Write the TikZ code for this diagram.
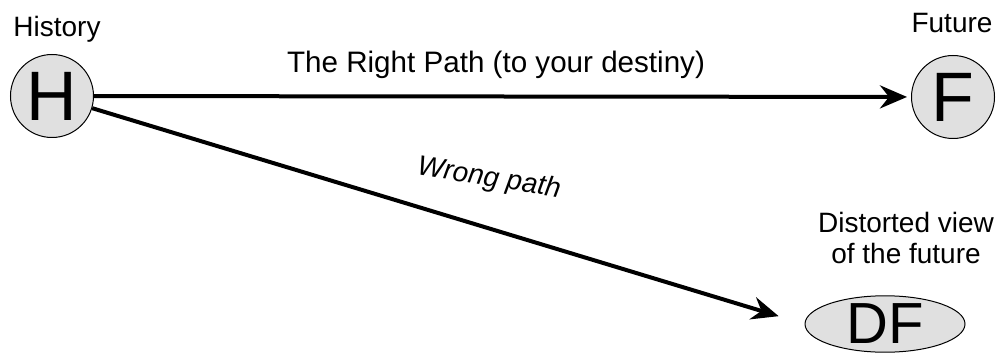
\documentclass[tikz,border=0pt]{standalone}
\usepackage{fontspec}
\setmainfont{Liberation Sans}
\usetikzlibrary{arrows.meta,shapes.geometric}
\definecolor{nodegray}{HTML}{E0E0E0}
\tikzset{
  bignode/.style={circle,draw=black,line width=1pt,fill=nodegray,inner sep=0pt,minimum size=83pt,font=\fontsize{70}{70}\selectfont},
  lbl/.style={font=\fontsize{28}{32}\selectfont,inner sep=0pt},
  pathline/.style={line width=4pt,-{Stealth[length=27pt,width=23pt,inset=9pt]}}
}
\begin{document}
\begin{tikzpicture}[x=1pt,y=1pt]
\useasboundingbox (0,0) rectangle (1000,359);
\node[bignode] (H) at (52,263) {H};
\node[bignode] (F) at (953,262) {F};
\node[ellipse,draw=black,line width=1pt,fill=nodegray,inner sep=0pt,minimum width=160pt,minimum height=55pt,font=\fontsize{58}{58}\selectfont] (DF) at (885,35) {DF};
\node[lbl,anchor=base] (hist) at (57,322) {History};
\node[lbl,anchor=base] (fut) at (952,326) {Future};
\node[lbl,anchor=base,font=\fontsize{29.6}{32}\selectfont] (right) at (496,286) {The Right Path (to your destiny)};
\node[lbl,anchor=base,align=center,font=\fontsize{28}{31}\selectfont] (dist) at (906,96) {Distorted view\\of the future};
\node[lbl,rotate=-9,font=\fontsize{28}{32}\selectfont\itshape] (wrong) at (489,180) {Wrong path};
\draw[pathline,shorten >=4pt] (H) -- (F);
\draw[pathline,shorten >=27pt] (H) -- (DF.west);
\end{tikzpicture}
\end{document}
